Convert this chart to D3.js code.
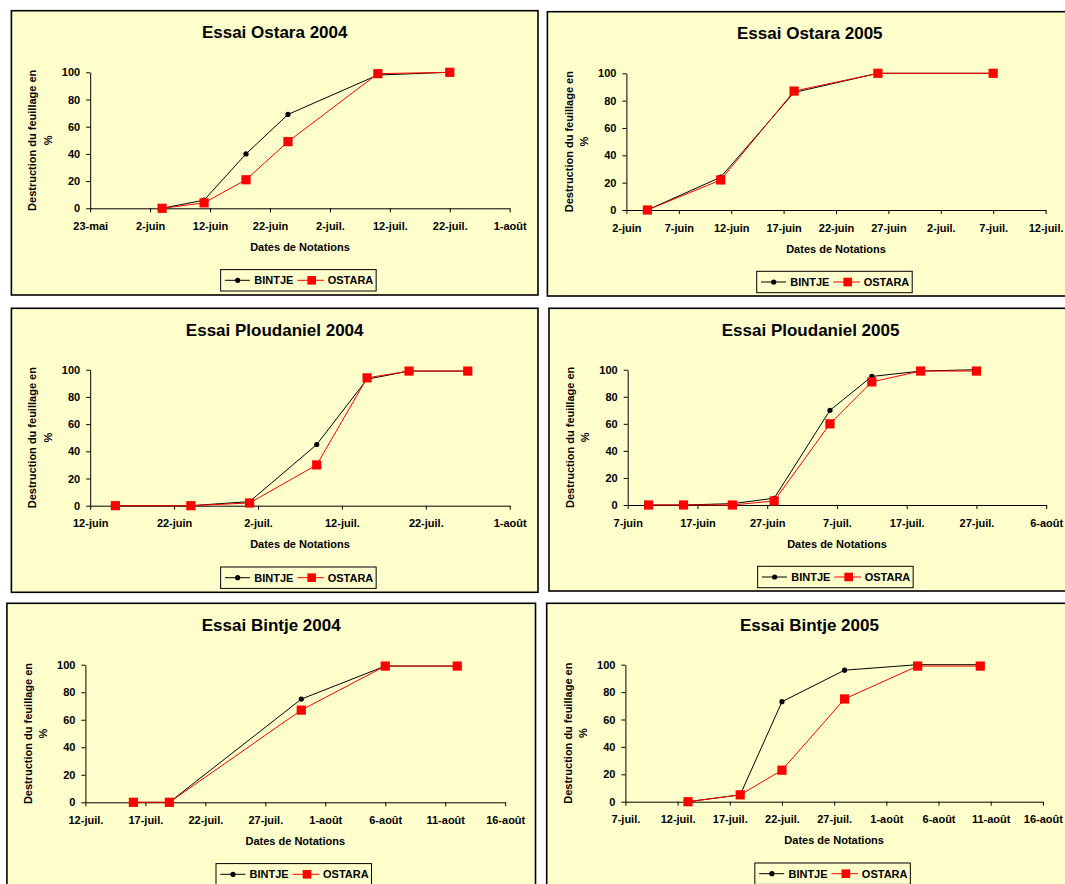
<!DOCTYPE html>
<html>
<head>
<meta charset="utf-8">
<script src="https://cdn.jsdelivr.net/npm/d3@7"></script>
<style>
  html, body { margin: 0; padding: 0; background: #ffffff; }
  svg { display: block; }
  text { font-family: "Liberation Sans", Arial, sans-serif; font-weight: bold; fill: #000; }
</style>
</head>
<body>
<svg id="chart" width="1065" height="884"></svg>
<script>
// ---------------- DATA ----------------
const seriesNames = ["BINTJE", "OSTARA"];
const yTicks = [0, 20, 40, 60, 80, 100];
const yAxisTitle = ["Destruction du feuillage en", "%"];
const xAxisTitle = "Dates de Notations";

// Essai Ostara 2004
const ostara2004Dates  = ["2004-06-04", "2004-06-11", "2004-06-18", "2004-06-25", "2004-07-10", "2004-07-22"];
const ostara2004Bintje = [0, 6, 40, 69, 98, 100];
const ostara2004Ostara = [0, 4, 21, 49, 99, 100];
const ostara2004Ticks  = ["2004-05-23", "2004-06-02", "2004-06-12", "2004-06-22", "2004-07-02", "2004-07-12", "2004-07-22", "2004-08-01"];
const ostara2004Labels = ["23-mai", "2-juin", "12-juin", "22-juin", "2-juil.", "12-juil.", "22-juil.", "1-août"];

// Essai Ostara 2005
const ostara2005Dates  = ["2005-06-04", "2005-06-11", "2005-06-18", "2005-06-26", "2005-07-07"];
const ostara2005Bintje = [0, 24, 86, 100, 100];
const ostara2005Ostara = [0, 22, 87, 100, 100];
const ostara2005Ticks  = ["2005-06-02", "2005-06-07", "2005-06-12", "2005-06-17", "2005-06-22", "2005-06-27", "2005-07-02", "2005-07-07", "2005-07-12"];
const ostara2005Labels = ["2-juin", "7-juin", "12-juin", "17-juin", "22-juin", "27-juin", "2-juil.", "7-juil.", "12-juil."];

// Essai Ploudaniel 2004
const ploudaniel2004Dates  = ["2004-06-15", "2004-06-24", "2004-07-01", "2004-07-09", "2004-07-15", "2004-07-20", "2004-07-27"];
const ploudaniel2004Bintje = [0, 0, 3, 45, 93, 99, 99];
const ploudaniel2004Ostara = [0, 0, 2, 30, 94, 99, 99];
const ploudaniel2004Ticks  = ["2004-06-12", "2004-06-22", "2004-07-02", "2004-07-12", "2004-07-22", "2004-08-01"];
const ploudaniel2004Labels = ["12-juin", "22-juin", "2-juil.", "12-juil.", "22-juil.", "1-août"];

// Essai Ploudaniel 2005
const ploudaniel2005Dates  = ["2005-06-10", "2005-06-15", "2005-06-22", "2005-06-28", "2005-07-06", "2005-07-12", "2005-07-19", "2005-07-27"];
const ploudaniel2005Bintje = [0, 0, 1, 5, 70, 95, 99, 100];
const ploudaniel2005Ostara = [0, 0, 0, 3, 60, 91, 99, 99];
const ploudaniel2005Ticks  = ["2005-06-07", "2005-06-17", "2005-06-27", "2005-07-07", "2005-07-17", "2005-07-27", "2005-08-06"];
const ploudaniel2005Labels = ["7-juin", "17-juin", "27-juin", "7-juil.", "17-juil.", "27-juil.", "6-août"];

// Essai Bintje 2004
const bintje2004Dates  = ["2004-07-16", "2004-07-19", "2004-07-30", "2004-08-06", "2004-08-12"];
const bintje2004Bintje = [0, 0, 75, 99, 99];
const bintje2004Ostara = [0, 0, 67, 99, 99];
const bintje2004Ticks  = ["2004-07-12", "2004-07-17", "2004-07-22", "2004-07-27", "2004-08-01", "2004-08-06", "2004-08-11", "2004-08-16"];
const bintje2004Labels = ["12-juil.", "17-juil.", "22-juil.", "27-juil.", "1-août", "6-août", "11-août", "16-août"];

// Essai Bintje 2005
const bintje2005Dates  = ["2005-07-13", "2005-07-18", "2005-07-22", "2005-07-28", "2005-08-04", "2005-08-10"];
const bintje2005Bintje = [0, 5, 73, 96, 100, 100];
const bintje2005Ostara = [0, 5, 23, 75, 99, 99];
const bintje2005Ticks  = ["2005-07-07", "2005-07-12", "2005-07-17", "2005-07-22", "2005-07-27", "2005-08-01", "2005-08-06", "2005-08-11", "2005-08-16"];
const bintje2005Labels = ["7-juil.", "12-juil.", "17-juil.", "22-juil.", "27-juil.", "1-août", "6-août", "11-août", "16-août"];

const titles = ["Essai Ostara 2004", "Essai Ostara 2005", "Essai Ploudaniel 2004",
                "Essai Ploudaniel 2005", "Essai Bintje 2004", "Essai Bintje 2005"];

// ---------------- LAYOUT ----------------
const panels = [
  { title: titles[0], dates: ostara2004Dates, bintje: ostara2004Bintje, ostara: ostara2004Ostara,
    ticks: ostara2004Ticks, labels: ostara2004Labels,
    frame: [11.4, 10.7, 538, 295], plot: [90.2, 72.3, 509.7, 208.3] },
  { title: titles[1], dates: ostara2005Dates, bintje: ostara2005Bintje, ostara: ostara2005Ostara,
    ticks: ostara2005Ticks, labels: ostara2005Labels,
    frame: [547.4, 11.7, 1075, 296], plot: [626.4, 73.3, 1045.6, 210] },
  { title: titles[2], dates: ploudaniel2004Dates, bintje: ploudaniel2004Bintje, ostara: ploudaniel2004Ostara,
    ticks: ploudaniel2004Ticks, labels: ploudaniel2004Labels,
    frame: [11.4, 308.3, 538, 592.3], plot: [90.2, 369.7, 509.7, 505.7] },
  { title: titles[3], dates: ploudaniel2005Dates, bintje: ploudaniel2005Bintje, ostara: ploudaniel2005Ostara,
    ticks: ploudaniel2005Ticks, labels: ploudaniel2005Labels,
    frame: [549, 308.3, 1075, 591], plot: [627.7, 369.7, 1046.2, 505] },
  { title: titles[4], dates: bintje2004Dates, bintje: bintje2004Bintje, ostara: bintje2004Ostara,
    ticks: bintje2004Ticks, labels: bintje2004Labels,
    frame: [6.9, 603.3, 535.5, 905], plot: [85.4, 664.7, 505.2, 802.3] },
  { title: titles[5], dates: bintje2005Dates, bintje: bintje2005Bintje, ostara: bintje2005Ostara,
    ticks: bintje2005Ticks, labels: bintje2005Labels,
    frame: [546.7, 603.3, 1075, 905], plot: [625.4, 664.7, 1042.9, 801.7] }
];

const BG = "#FFFFCC";
const RED = "#FF0000";
const SQ = 9.2;
const parse = s => { const [y, m, d] = s.split("-").map(Number); return new Date(Date.UTC(y, m - 1, d)); };

const svg = d3.select("#chart");

panels.forEach(p => {
  const [fx0, fy0, fx1, fy1] = p.frame;
  const [px0, py0, px1, py1] = p.plot;
  const g = svg.append("g");

  // chart area frame
  g.append("rect")
    .attr("x", fx0).attr("y", fy0)
    .attr("width", fx1 - fx0).attr("height", fy1 - fy0)
    .attr("fill", BG).attr("stroke", "#000").attr("stroke-width", 1.6);

  // title
  g.append("text")
    .attr("x", (fx0 + fx1) / 2 + (fx1 > 1065 ? -(fx1 - 1073.6) : 0))
    .attr("y", fy0 + 21.3)
    .attr("dy", "0.35em")
    .attr("text-anchor", "middle")
    .style("font-size", "17px")
    .text(p.title);

  const tickDates = p.ticks.map(parse);
  const x = d3.scaleUtc()
    .domain([tickDates[0], tickDates[tickDates.length - 1]])
    .range([px0, px1]);
  const y = d3.scaleLinear().domain([0, 100]).range([py1, py0]);

  // y axis
  const ya = g.append("g")
    .attr("transform", `translate(${px0},0)`)
    .call(d3.axisLeft(y).tickValues(yTicks).tickSize(4).tickSizeOuter(0).tickPadding(6));
  // x axis
  const xa = g.append("g")
    .attr("transform", `translate(0,${py1})`)
    .call(d3.axisBottom(x).tickValues(tickDates).tickSize(4).tickSizeOuter(0).tickPadding(10)
      .tickFormat((d, i) => p.labels[i]));
  [ya, xa].forEach(a => {
    a.selectAll("path.domain").attr("stroke", "#000").attr("stroke-width", 1);
    a.selectAll(".tick line").attr("stroke", "#000").attr("stroke-width", 1);
    a.selectAll("text")
      .style("font-family", '"Liberation Sans", Arial, sans-serif')
      .style("font-size", "11px").style("font-weight", "bold").attr("fill", "#000");
  });

  // axis titles
  const pcx = (px0 + px1) / 2;
  g.append("text")
    .attr("x", pcx).attr("y", py1 + 38.8).attr("dy", "0.35em")
    .attr("text-anchor", "middle").style("font-size", "11px")
    .text(xAxisTitle);
  const pcy = (py0 + py1) / 2;
  yAxisTitle.forEach((t, i) => {
    g.append("text")
      .attr("transform", `translate(${px0 - 57.7 + i * 15.4},${pcy}) rotate(-90)`)
      .attr("dy", "0.35em")
      .attr("text-anchor", "middle").style("font-size", "11px")
      .text(t);
  });

  // series
  const dates = p.dates.map(parse);
  const bData = dates.map((d, i) => ({ d, v: p.bintje[i] }));
  const oData = dates.map((d, i) => ({ d, v: p.ostara[i] }));
  const line = d3.line().x(e => x(e.d)).y(e => y(e.v));

  g.append("path").datum(bData).attr("d", line)
    .attr("fill", "none").attr("stroke", "#000").attr("stroke-width", 1);
  g.selectAll(null).data(bData).enter().append("circle")
    .attr("cx", e => x(e.d)).attr("cy", e => y(e.v)).attr("r", 2.6).attr("fill", "#000");

  g.append("path").datum(oData).attr("d", line)
    .attr("fill", "none").attr("stroke", RED).attr("stroke-width", 1);
  g.selectAll(null).data(oData).enter().append("rect")
    .attr("x", e => x(e.d) - SQ / 2).attr("y", e => y(e.v) - SQ / 2)
    .attr("width", SQ).attr("height", SQ).attr("fill", RED);

  // legend
  const lx = pcx - 79.3, ly = py1 + 61.3, lw = 155.5, lh = 21.4, lcy = ly + lh / 2;
  const lg = g.append("g");
  lg.append("rect").attr("x", lx).attr("y", ly).attr("width", lw).attr("height", lh)
    .attr("fill", BG).attr("stroke", "#000").attr("stroke-width", 1);
  lg.append("line").attr("x1", lx + 4.3).attr("x2", lx + 29.3).attr("y1", lcy).attr("y2", lcy)
    .attr("stroke", "#000").attr("stroke-width", 1);
  lg.append("circle").attr("cx", lx + 17).attr("cy", lcy).attr("r", 2.6).attr("fill", "#000");
  lg.append("text").attr("x", lx + 33.6).attr("y", lcy).attr("dy", "0.35em")
    .style("font-size", "11px").text(seriesNames[0]);
  lg.append("line").attr("x1", lx + 76.6).attr("x2", lx + 103.3).attr("y1", lcy).attr("y2", lcy)
    .attr("stroke", RED).attr("stroke-width", 1);
  lg.append("rect").attr("x", lx + 91 - 4.3).attr("y", lcy - 4.3).attr("width", 8.6).attr("height", 8.6)
    .attr("fill", RED);
  lg.append("text").attr("x", lx + 107).attr("y", lcy).attr("dy", "0.35em")
    .style("font-size", "11px").text(seriesNames[1]);
});
</script>
</body>
</html>
